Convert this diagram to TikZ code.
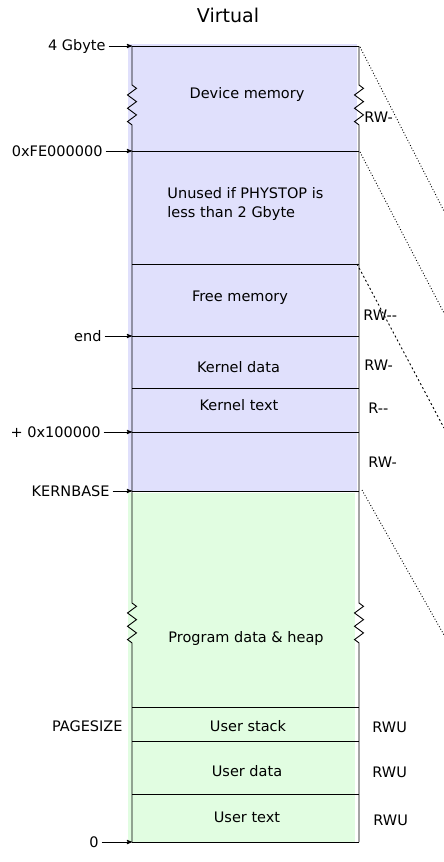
\documentclass[tikz,border=0pt]{standalone}
\usepackage{fontspec}
\setmainfont{DejaVu Sans}
\usepackage{tikz}
\usetikzlibrary{arrows,positioning,decorations.pathmorphing}
\definecolor{kernblue}{RGB}{224,224,252}
\definecolor{usergreen}{RGB}{225,253,225}
\tikzset{addr/.style={inner xsep=2.5pt,inner ysep=0pt}}
\tikzset{perm/.style={anchor=base west,inner sep=0pt}}
\tikzstyle{region}=[anchor=base,inner sep=0pt]
\tikzstyle{zz}=[decoration={zigzag,segment length=13.3pt,amplitude=4.5pt}]

\begin{document}
\begin{tikzpicture}[x=1pt,y=-1pt,>=stealth',line width=0.9pt,font=\fontsize{14.5}{19.5}\selectfont]
    \useasboundingbox (0,0) rectangle (444,862);
    \fill[kernblue] (128,44) rectangle (357,491);
    \fill[usergreen] (128,493) rectangle (355,842);
    % row boundaries on the left edge
    \foreach \n/\y in {gb4/46,fe/151,phys/264,end/336,kdat/388,ktxt/432,kbase/491,ustk/707,udat/741,utxt/794,zero/842}
        \coordinate (\n) at (132,\y);
    \foreach \n in {gb4,fe,phys,end,kdat,ktxt,kbase,ustk,udat,utxt,zero}
        \draw (\n) -- ++(227,0);
    \draw (gb4) -- (132,85) decorate[zz]{-- (132,125)} -- (132,603) decorate[zz]{-- (132,643)} -- (zero);
    \draw (359,46) -- (359,85) decorate[zz]{-- (359,125)} -- (359,603) decorate[zz]{-- (359,643)} -- (359,842);
    \node (title) [anchor=base,font=\fontsize{19}{23}\selectfont] at (228,22) {Virtual};
    % regions
    \node (dev) [region] at (247,98) {Device memory};
    \node (unused) [anchor=north west,inner sep=0pt,align=left] at (167,187) {Unused if PHYSTOP is\\less than 2 Gbyte};
    \node (free) [region] at (240,301) {Free memory};
    \node (kdata) [region] at (238.5,372) {Kernel data};
    \node (ktext) [region] at (239,410) {Kernel text};
    \node (heap) [region] at (246,642) {Program data \& heap};
    \node (stack) [region] at (248,731) {User stack};
    \node (data) [region] at (247,776) {User data};
    \node (text) [region] at (247,822) {User text};
    % addresses
    \node (agb4) [addr,left=23.5pt of gb4] {4 Gbyte};
    \node (afe) [addr,left=26.5pt of fe] {0xFE000000};
    \node (aend) [addr,left=27.5pt of end] {end};
    \node (aphys) [addr,left=28.5pt of ktxt] {+ 0x100000};
    \node (akbase) [addr,left=19.5pt of kbase] {KERNBASE};
    \node (azero) [addr,left=30.5pt of zero] {0};
    \node (apage) [anchor=base east,inner sep=0pt] at (123,731) {PAGESIZE};
    \draw[->] (agb4) -- (gb4);
    \draw[->] (afe) -- (fe);
    \draw[->] (aend) -- (end);
    \draw[->] (aphys) -- (ktxt);
    \draw[->] (akbase) -- (kbase);
    \draw[->] (azero) -- (zero);
    % permissions
    \node (p1) [perm] at (364,122) {RW-};
    \node (p2) [perm] at (363,320) {RW-{}-};
    \node (p3) [perm] at (364,370) {RW-};
    \node (p4) [perm] at (368,413) {R-{}-};
    \node (p5) [perm] at (368,467) {RW-};
    \node (p6) [perm] at (372,732) {RWU};
    \node (p7) [perm] at (372,777) {RWU};
    \node (p8) [perm] at (373,825) {RWU};
    % mapping lines
    \coordinate (m1) at (360,47);
    \coordinate (m2) at (360,152);
    \coordinate (m3) at (357,264);
    \coordinate (m4) at (362,490);
    \coordinate (n1) at (444,211);
    \coordinate (n2) at (444,313);
    \coordinate (n3) at (444,428);
    \coordinate (n4) at (444,635);
    \draw[dotted] (m1) -- (n1);
    \draw[dotted] (m2) -- (n2);
    \draw[dash pattern=on 2pt off 2.5pt] (m3) -- (n3);
    \draw[dotted] (m4) -- (n4);
\end{tikzpicture}
\end{document}
